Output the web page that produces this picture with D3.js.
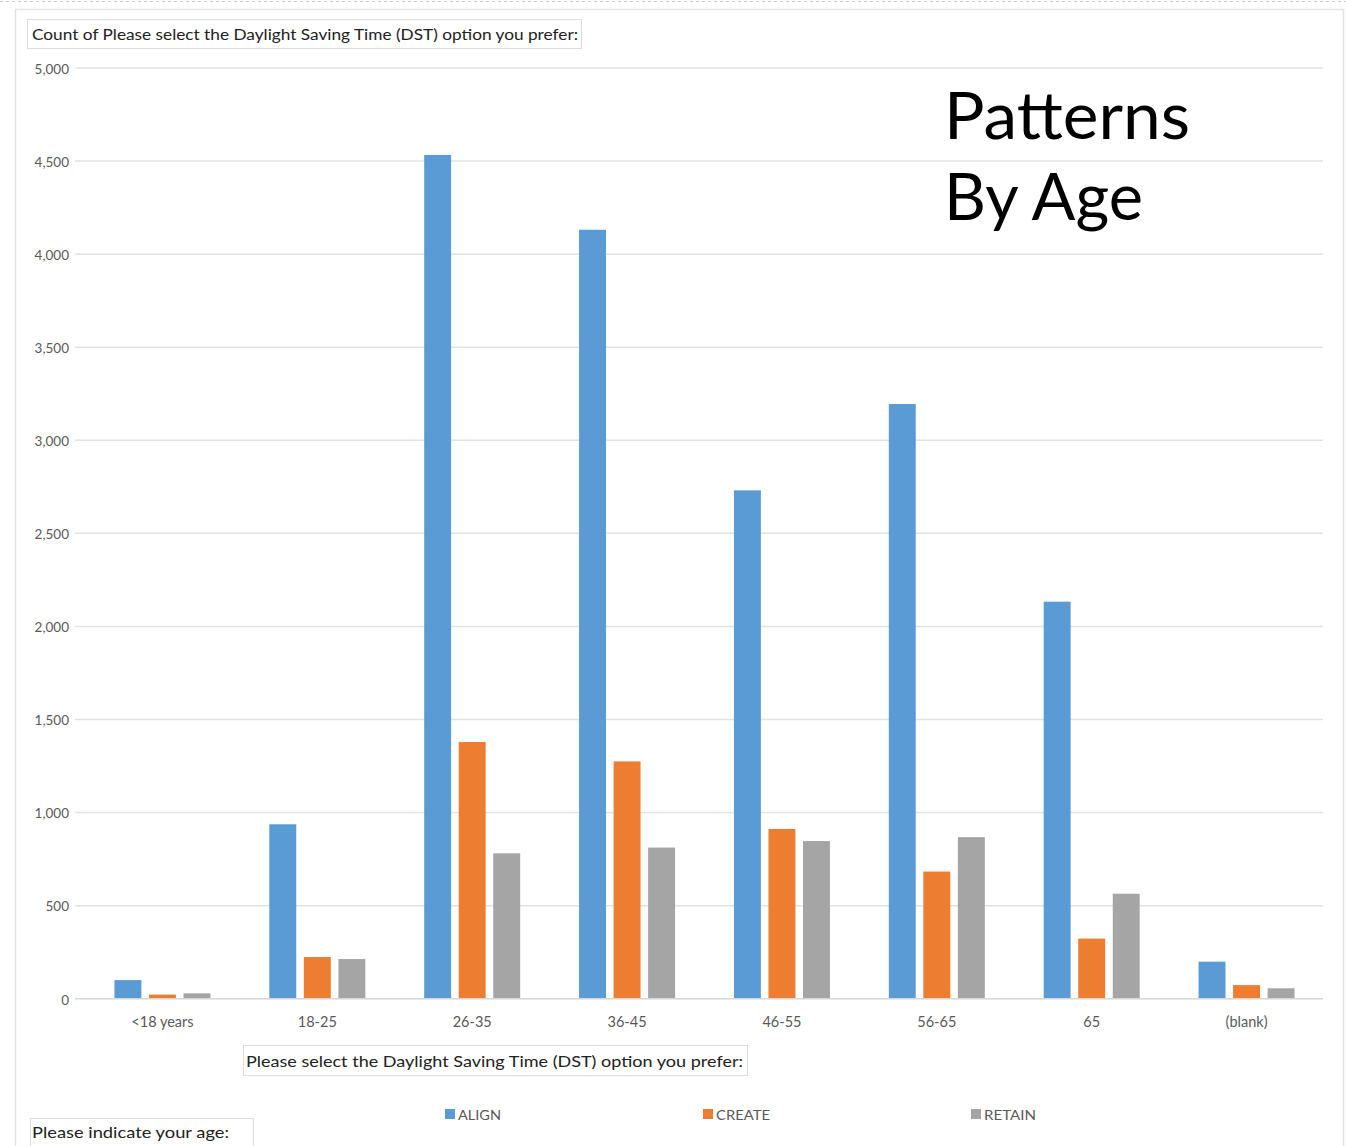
<!DOCTYPE html>
<html>
<head>
<meta charset="utf-8">
<script src="https://cdn.jsdelivr.net/npm/d3@7"></script>
<style>
  html, body { margin: 0; padding: 0; background: #fff; }
  svg { display: block; }
  text { font-family: Lato, "Open Sans", "Noto Sans", sans-serif; }
</style>
</head>
<body>
<svg id="chart" width="1346" height="1146"></svg>
<script>
// ---- data ----
const categories = ["<18 years", "18-25", "26-35", "36-45", "46-55", "56-65", "65", "(blank)"];
const seriesNames = ["ALIGN", "CREATE", "RETAIN"];
const alignValues  = [100, 937, 4533, 4131, 2731, 3195, 2133, 199];
const createValues = [22, 224, 1379, 1275, 912, 683, 323, 73];
const retainValues = [29, 213, 781, 812, 847, 868, 564, 56];
const yTicks = [0, 500, 1000, 1500, 2000, 2500, 3000, 3500, 4000, 4500, 5000];
const colors = ["#5b9bd5", "#ed7d31", "#a5a5a5"];

const seriesValues = [alignValues, createValues, retainValues];

const svg = d3.select("#chart");

// outer frame
svg.append("line").attr("x1", 0).attr("x2", 1346).attr("y1", 1.5).attr("y2", 1.5)
  .attr("stroke", "#c8c8c8").attr("stroke-width", 1.2).attr("stroke-dasharray", "3,3");
svg.append("path")
  .attr("d", "M15.5,1146 L15.5,9.5 L1343.5,9.5 L1343.5,1146")
  .attr("fill", "none").attr("stroke", "#e3e3e3").attr("stroke-width", 1.5);

// scales
const x0 = d3.scaleBand().domain(categories).range([85, 1324]).padding(0);
const bw = x0.bandwidth();
const x1 = d3.scaleBand().domain(seriesNames).range([bw / 2 - 48, bw / 2 + 48]).paddingInner(0.22);
const y = d3.scaleLinear().domain([0, 5000]).range([998.7, 68]);

// gridlines
svg.append("g").selectAll("line").data(yTicks.filter(d => d > 0)).join("line")
  .attr("x1", 75).attr("x2", 1323)
  .attr("y1", d => y(d)).attr("y2", d => y(d))
  .attr("stroke", "#e2e2e2").attr("stroke-width", 1.5);

// y axis labels
const yAxis = d3.axisLeft(y).tickValues(yTicks).tickFormat(d3.format(",")).tickSize(0).tickPadding(0);
const gy = svg.append("g").attr("transform", "translate(69,1)").call(yAxis);
gy.select(".domain").remove();
gy.selectAll("text").attr("fill", "#595959").style("font-size", "13.5px")
  .style("font-family", "Lato, 'Open Sans', sans-serif");

// title box top
svg.append("rect").attr("x", 27.5).attr("y", 19.5).attr("width", 554).attr("height", 29)
  .attr("fill", "#fff").attr("stroke", "#dcdcdc");
svg.append("text").attr("x", 32).attr("y", 40).attr("fill", "#222")
  .style("font-size", "15.5px").attr("textLength", 546).attr("lengthAdjust", "spacingAndGlyphs")
  .text("Count of Please select the Daylight Saving Time (DST) option you prefer:");

// Patterns By Age
svg.append("text").attr("x", 944).attr("y", 139.3).attr("fill", "#000")
  .style("font-size", "66px").attr("textLength", 246).attr("lengthAdjust", "spacingAndGlyphs")
  .text("Patterns");
svg.append("text").attr("x", 944).attr("y", 220).attr("fill", "#000")
  .style("font-size", "66px").attr("textLength", 199).attr("lengthAdjust", "spacingAndGlyphs")
  .text("By Age");

// bars
const groups = svg.append("g").selectAll("g").data(categories).join("g")
  .attr("transform", d => `translate(${x0(d)},0)`);
groups.selectAll("rect")
  .data((c, i) => seriesNames.map((s, j) => ({ s, j, v: seriesValues[j][i] })))
  .join("rect")
  .attr("x", d => x1(d.s))
  .attr("width", x1.bandwidth())
  .attr("y", d => y(d.v))
  .attr("height", d => y(0) - y(d.v))
  .attr("fill", d => colors[d.j]);

// baseline
svg.append("line").attr("x1", 75).attr("x2", 1323).attr("y1", y(0)).attr("y2", y(0))
  .attr("stroke", "#d6d6d6").attr("stroke-width", 1.5);

// x axis labels
const xAxis = d3.axisBottom(x0).tickSize(0).tickPadding(0);
const gx = svg.append("g").attr("transform", `translate(0,${y(0) + 18.5})`).call(xAxis);
gx.select(".domain").remove();
gx.selectAll("text").attr("fill", "#595959").style("font-size", "14.5px")
  .style("font-family", "Lato, 'Open Sans', sans-serif");

// axis title box bottom
svg.append("rect").attr("x", 243.5).attr("y", 1045.5).attr("width", 504).attr("height", 30)
  .attr("fill", "#fff").attr("stroke", "#dcdcdc");
svg.append("text").attr("x", 246).attr("y", 1067).attr("fill", "#222")
  .style("font-size", "16px").attr("textLength", 497).attr("lengthAdjust", "spacingAndGlyphs")
  .text("Please select the Daylight Saving Time (DST) option you prefer:");

// legend
const legendX = [445, 703, 971];
const legendW = [43, 54, 52];
const lg = svg.append("g").selectAll("g").data(seriesNames).join("g")
  .attr("transform", (d, i) => `translate(${legendX[i]},1109)`);
lg.append("rect").attr("x", 0).attr("y", 0).attr("width", 10).attr("height", 10)
  .attr("fill", (d, i) => colors[i]);
lg.append("text").attr("x", 13).attr("y", 10.5).attr("fill", "#595959")
  .style("font-size", "14px")
  .attr("textLength", (d, i) => legendW[i]).attr("lengthAdjust", "spacingAndGlyphs")
  .text(d => d);

// row field box bottom-left
svg.append("rect").attr("x", 30.5).attr("y", 1118.5).attr("width", 223).attr("height", 30)
  .attr("fill", "#fff").attr("stroke", "#dcdcdc");
svg.append("text").attr("x", 32).attr("y", 1138).attr("fill", "#222")
  .style("font-size", "16px").attr("textLength", 197).attr("lengthAdjust", "spacingAndGlyphs")
  .text("Please indicate your age:");
</script>
</body>
</html>
